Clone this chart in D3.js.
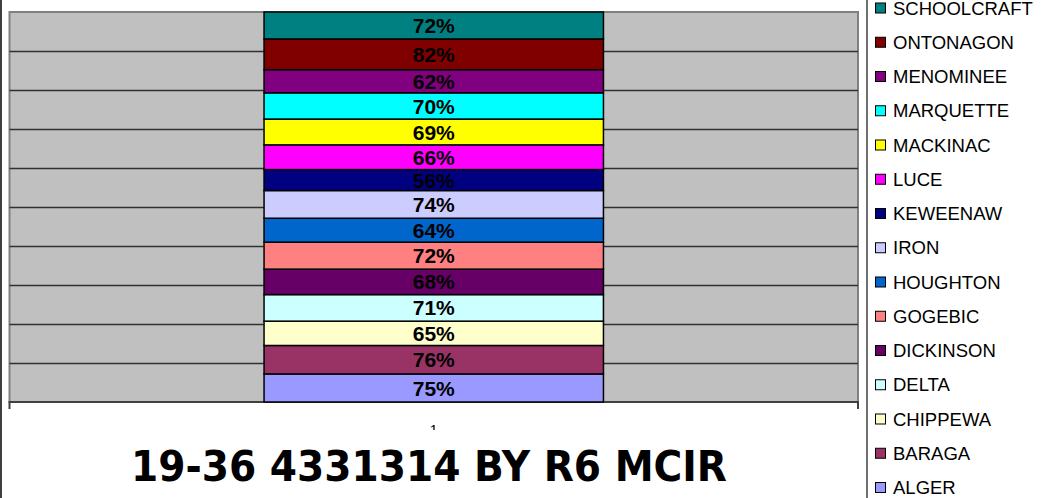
<!DOCTYPE html>
<html>
<head>
<meta charset="utf-8">
<script src="https://cdn.jsdelivr.net/npm/d3@7"></script>
<style>
  body { margin: 0; background: #fff; }
  svg { display: block; }
</style>
</head>
<body>
<div class="chart"></div>
<script>
// counties, bottom of the stack first
var counties = ['ALGER', 'BARAGA', 'CHIPPEWA', 'DELTA', 'DICKINSON', 'GOGEBIC', 'HOUGHTON',
  'IRON', 'KEWEENAW', 'LUCE', 'MACKINAC', 'MARQUETTE', 'MENOMINEE', 'ONTONAGON', 'SCHOOLCRAFT'];
var rates = [75, 76, 65, 71, 68, 72, 64, 74, 56, 66, 69, 70, 62, 82, 72];
var colors = ['#9999FF', '#993366', '#FFFFCC', '#CCFFFF', '#660066', '#FF8080', '#0066CC',
  '#CCCCFF', '#000080', '#FF00FF', '#FFFF00', '#00FFFF', '#800080', '#800000', '#008080'];
var categories = ['1'];
var title = '19-36 4331314 BY R6 MCIR';

var width = 1045,
  height = 498,
  plot = { left: 9.5, right: 858, top: 12, bottom: 402 };

var svg = d3.select('.chart')
  .append('svg')
    .attr('width', width)
    .attr('height', height);

// one row per category, one column per county
var row = { cat: categories[0] };
counties.forEach((c, i) => { row[c] = rates[i]; });

var series = d3.stack()
  .keys(counties)
  .offset(d3.stackOffsetExpand)([row]);

var xScale = d3.scaleBand()
  .domain(categories)
  .range([plot.left, plot.right])
  .paddingInner(0.6)
  .paddingOuter(0.3);

var yScale = d3.scaleLinear()
  .domain([0, 1])
  .range([plot.bottom, plot.top]);

var colorScale = d3.scaleOrdinal()
  .domain(counties)
  .range(colors);

// chart area left edge
svg.append('line')
  .attr('x1', 1).attr('x2', 1)
  .attr('y1', 0).attr('y2', height)
  .attr('stroke', '#404040')
  .attr('stroke-width', 2);

// plot area
svg.append('rect')
  .attr('x', plot.left)
  .attr('y', plot.top)
  .attr('width', plot.right - plot.left)
  .attr('height', plot.bottom - plot.top)
  .attr('fill', '#C0C0C0')
  .attr('stroke', '#808080')
  .attr('stroke-width', 2);

// gridlines
var gY = svg.append('g')
  .attr('transform', `translate(${plot.left}, 0)`)
  .call(d3.axisLeft(yScale)
    .tickValues(d3.range(0.1, 1, 0.1))
    .tickSize(-(plot.right - plot.left))
    .tickFormat(''));
gY.select('.domain').remove();
gY.selectAll('.tick line')
  .attr('stroke', '#303030')
  .attr('stroke-width', 1.5);

// category axis
var gX = svg.append('g')
  .attr('transform', `translate(0, ${plot.bottom})`)
  .call(d3.axisBottom(xScale).tickSize(0).tickPadding(23));
gX.select('.domain')
  .attr('d', `M${plot.left},7V0H${plot.right}V7`)
  .attr('stroke', '#404040')
  .attr('stroke-width', 2)
  .attr('fill', 'none');
gX.selectAll('.tick text')
  .attr('font-family', 'Liberation Sans, Arial, sans-serif')
  .attr('font-size', 14)
  .attr('fill', '#000');

// stacked segments
var segments = svg.append('g')
  .selectAll('.segment')
  .data(series)
  .enter()
  .append('g')
    .attr('class', 'segment');

segments.selectAll('rect')
  .data(d => d.map(p => ({ key: d.key, p: p })))
  .enter()
  .append('rect')
    .attr('x', d => xScale(d.p.data.cat))
    .attr('y', d => yScale(d.p[1]))
    .attr('width', xScale.bandwidth())
    .attr('height', d => yScale(d.p[0]) - yScale(d.p[1]))
    .attr('fill', d => colorScale(d.key))
    .attr('stroke', '#000')
    .attr('stroke-width', 1.5);

segments.selectAll('text')
  .data(d => d.map(p => ({ key: d.key, p: p })))
  .enter()
  .append('text')
    .attr('x', d => xScale(d.p.data.cat) + xScale.bandwidth() / 2)
    .attr('y', d => (yScale(d.p[0]) + yScale(d.p[1])) / 2)
    .attr('dy', '0.36em')
    .attr('text-anchor', 'middle')
    .attr('font-family', 'Liberation Sans, Arial, sans-serif')
    .attr('font-weight', 'bold')
    .attr('font-size', 21)
    .attr('fill', '#000')
    .text(d => d.p.data[d.key] + '%');

// axis title box hides the bottom of the tick label
svg.append('rect')
  .attr('x', 120)
  .attr('y', 430)
  .attr('width', 620)
  .attr('height', 68)
  .attr('fill', '#fff');

svg.append('text')
  .attr('x', 131)
  .attr('y', 480.5)
  .attr('textLength', 596)
  .attr('lengthAdjust', 'spacingAndGlyphs')
  .attr('font-family', 'DejaVu Sans, Verdana, sans-serif')
  .attr('font-weight', 'bold')
  .attr('font-size', 43)
  .attr('fill', '#000')
  .text(title);

// legend, top entry first
var legendOrder = counties.slice().reverse();
var legendY = d3.scalePoint()
  .domain(legendOrder)
  .range([8, 487.5]);

svg.append('line')
  .attr('x1', 867).attr('x2', 867)
  .attr('y1', 0).attr('y2', height)
  .attr('stroke', '#404040')
  .attr('stroke-width', 1.5);

var legend = svg.selectAll('.legend')
  .data(legendOrder)
  .enter()
  .append('g')
    .attr('class', 'legend')
    .attr('transform', d => `translate(0, ${legendY(d)})`);

legend.append('rect')
  .attr('x', 875.5)
  .attr('y', -5)
  .attr('width', 10)
  .attr('height', 10)
  .attr('fill', d => colorScale(d))
  .attr('stroke', '#000')
  .attr('stroke-width', 1);

legend.append('text')
  .attr('x', 893)
  .attr('y', 6.6)
  .attr('font-family', 'Liberation Sans, Arial, sans-serif')
  .attr('font-size', 18.5)
  .attr('fill', '#000')
  .text(d => d);
</script>
</body>
</html>
